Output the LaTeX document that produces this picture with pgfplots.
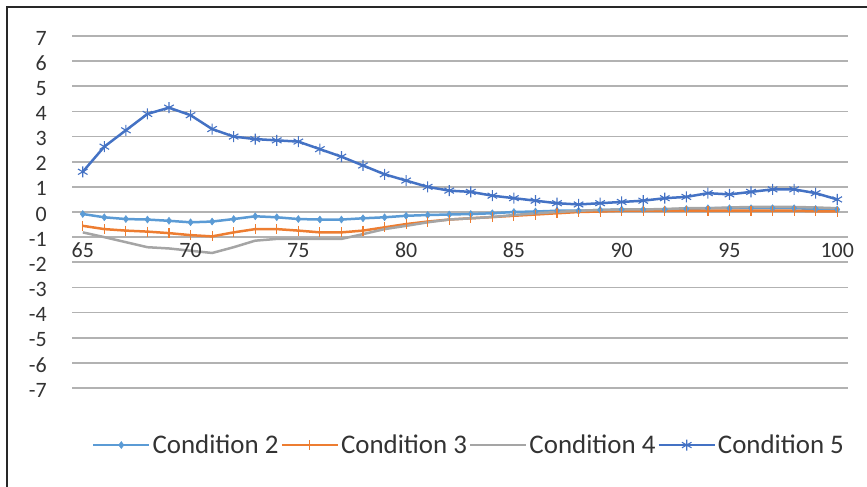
\documentclass[border=0pt]{standalone}
\usepackage{fontspec}
\setmainfont{Carlito}
\usepackage{pgfplots}
\pgfplotsset{compat=1.18}

\definecolor{condA}{RGB}{91,155,213}
\definecolor{condB}{RGB}{237,125,49}
\definecolor{condC}{RGB}{165,165,165}
\definecolor{condD}{RGB}{68,114,196}
\definecolor{gridc}{RGB}{178,178,178}
\definecolor{framec}{RGB}{40,40,40}

\begin{document}
\begin{tikzpicture}[x=1bp,y=1bp]
\path[use as bounding box] (0,0) rectangle (867,-487);
% chart frame (left and top edges)
\draw[framec, line width=2bp] (7,-490) -- (7,-7) -- (870,-7);

\begin{axis}[
  at={(72bp,-388bp)}, anchor=south west,
  scale only axis, width=776bp, height=352bp,
  xmin=64.5, xmax=100.5, ymin=-7, ymax=7,
  xtick=\empty,
  ytick={-7,-6,...,7},
  ymajorgrids,
  major grid style={line width=1.8bp, gridc},
  major tick length=0pt,
  axis line style={draw=none},
  clip=false,
  /pgf/number format/assume math mode=true,
  tick label style={font=\fontsize{22}{24}\selectfont, text=black!80},
  yticklabel style={anchor=east, inner sep=0pt, xshift=-25bp, yshift=-2bp},
  legend columns=4,
  legend style={draw=none, fill=none, at={(0.5116,-0.162)}, anchor=center,
    font=\fontsize{27}{29}\selectfont, text=black!80,
    /tikz/every even column/.append style={column sep=0bp},
    /tikz/every odd column/.append style={column sep=0bp},
    inner sep=0pt, cells={anchor=west, inner sep=3.5bp}},
  legend image code/.code={\draw[mark repeat=2,mark phase=2,#1] plot coordinates {(0bp,0bp) (28bp,0bp) (56bp,0bp)};},
  every axis plot/.append style={line width=2.5bp},
]

% Condition 2
\addplot[condA, mark=diamond*, mark size=3.5bp, mark options={solid, line width=0.5bp}] coordinates {
(65,-0.08) (66,-0.21) (67,-0.28) (68,-0.3) (69,-0.35) (70,-0.41) (71,-0.38) (72,-0.28)
(73,-0.17) (74,-0.21) (75,-0.28) (76,-0.3) (77,-0.3) (78,-0.25) (79,-0.21) (80,-0.15)
(81,-0.12) (82,-0.1) (83,-0.08) (84,-0.05) (85,0) (86,0.02) (87,0.05) (88,0.05)
(89,0.08) (90,0.1) (91,0.1) (92,0.1) (93,0.12) (94,0.15) (95,0.15) (96,0.15)
(97,0.15) (98,0.15) (99,0.12) (100,0.1)};
\addlegendentry{Condition 2}

% Condition 3
\addplot[condB, mark=|, mark size=5bp, mark options={solid, line width=1.2bp}] coordinates {
(65,-0.55) (66,-0.68) (67,-0.74) (68,-0.78) (69,-0.84) (70,-0.92) (71,-0.97) (72,-0.81)
(73,-0.68) (74,-0.68) (75,-0.74) (76,-0.81) (77,-0.81) (78,-0.74) (79,-0.61) (80,-0.48)
(81,-0.38) (82,-0.3) (83,-0.25) (84,-0.2) (85,-0.15) (86,-0.1) (87,-0.05) (88,0)
(89,0.02) (90,0.05) (91,0.05) (92,0.05) (93,0.05) (94,0.05) (95,0.05) (96,0.05)
(97,0.05) (98,0.05) (99,0.03) (100,0.02)};
\addlegendentry{Condition 3}

% Condition 4
\addplot[condC, no marks] coordinates {
(65,-0.81) (66,-1.0) (67,-1.2) (68,-1.4) (69,-1.45) (70,-1.54) (71,-1.63) (72,-1.4)
(73,-1.14) (74,-1.07) (75,-1.07) (76,-1.07) (77,-1.07) (78,-0.88) (79,-0.68) (80,-0.55)
(81,-0.41) (82,-0.3) (83,-0.25) (84,-0.2) (85,-0.12) (86,-0.05) (87,0) (88,0.05)
(89,0.08) (90,0.1) (91,0.1) (92,0.12) (93,0.15) (94,0.15) (95,0.18) (96,0.2)
(97,0.2) (98,0.2) (99,0.18) (100,0.15)};
\addlegendentry{Condition 4}

% Condition 5
\addplot[condD, mark=asterisk, mark size=5.5bp, mark options={solid, line width=1.1bp}] coordinates {
(65,1.6) (66,2.6) (67,3.25) (68,3.9) (69,4.15) (70,3.85) (71,3.3) (72,3.0)
(73,2.9) (74,2.85) (75,2.8) (76,2.5) (77,2.2) (78,1.85) (79,1.5) (80,1.25)
(81,1.0) (82,0.85) (83,0.8) (84,0.65) (85,0.55) (86,0.45) (87,0.35) (88,0.3)
(89,0.35) (90,0.4) (91,0.45) (92,0.55) (93,0.6) (94,0.75) (95,0.7) (96,0.8)
(97,0.9) (98,0.9) (99,0.75) (100,0.5)};
\addlegendentry{Condition 5}

% category labels along the horizontal axis
\pgfplotsinvokeforeach{65,70,75,80,85,90,95,100}{
  \node[font=\fontsize{22}{24}\selectfont, text=black!80, inner sep=0pt] at (axis cs:#1,-1.53) {#1};
}
\end{axis}
\end{tikzpicture}
\end{document}
